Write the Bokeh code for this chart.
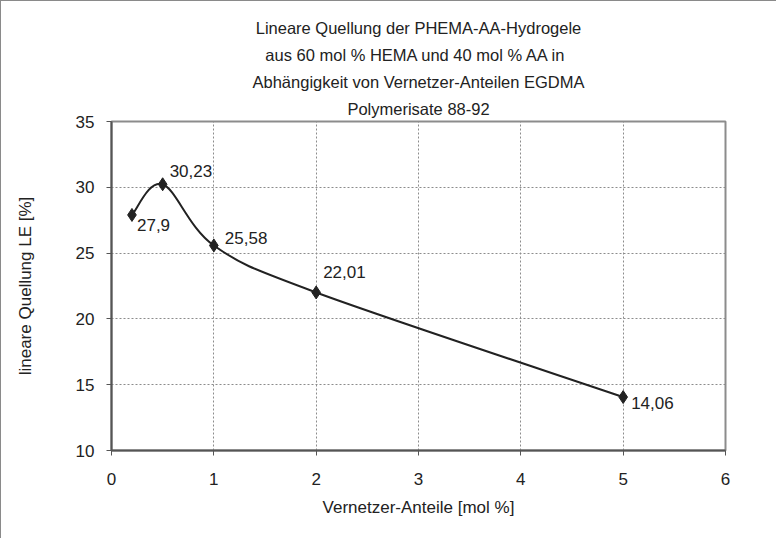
from bokeh.plotting import figure
from bokeh.models import Title, FixedTicker, Range1d
from bokeh.core.properties import value
from bokeh.embed import file_html
from bokeh.resources import INLINE

# ---- data ----
vernetzer = [0.2, 0.5, 1.0, 2.0, 5.0]
quellung = [27.9, 30.23, 25.58, 22.01, 14.06]
point_labels = ["27,9", "30,23", "25,58", "22,01", "14,06"]
x_ticks = [0, 1, 2, 3, 4, 5, 6]
y_ticks = [10, 15, 20, 25, 30, 35]
title_lines = [
    "Lineare Quellung der PHEMA-AA-Hydrogele",
    "aus 60 mol % HEMA und 40 mol % AA  in",
    "Abhängigkeit von Vernetzer-Anteilen EGDMA",
    "Polymerisate 88-92",
]
x_title = "Vernetzer-Anteile [mol %]"
y_title = "lineare Quellung LE [%]"

# label offsets (screen px) for data labels
lab_dx = [5, 7, 11, 7, 8]
lab_dy = [10, -13, -7, -20, 6]

FONT = "Liberation Sans"
DARK = "#222222"

p = figure(width=776, height=538, output_backend="svg", toolbar_location=None,
           x_range=Range1d(0, 6), y_range=Range1d(10, 35),
           min_border_left=110, min_border_right=52,
           min_border_top=120, min_border_bottom=89)
p.styles = {"border-top": "1px solid #8a8a8a", "border-left": "1px solid #8a8a8a"}

p.background_fill_color = "white"
p.border_fill_color = "white"
p.outline_line_color = "#8c8c8c"
p.outline_line_width = 2

# grids
p.xgrid.ticker = FixedTicker(ticks=x_ticks)
p.ygrid.ticker = FixedTicker(ticks=y_ticks)
for g in (p.xgrid, p.ygrid):
    g.grid_line_color = "#8c8c8c"
    g.grid_line_width = 1
    g.grid_line_dash = "2 2"

# axes
for ax in (p.xaxis, p.yaxis):
    ax.axis_line_color = "#555555"
    ax.axis_line_width = 2
    ax.major_tick_line_color = "#555555"
    ax.major_tick_in = 0
    ax.major_tick_out = 5
    ax.minor_tick_line_color = None
    ax.major_label_text_font = FONT
    ax.major_label_text_font_size = "17px"
    ax.major_label_text_color = DARK
    ax.axis_label_text_font = FONT
    ax.axis_label_text_font_size = "17px"
    ax.axis_label_text_font_style = "normal"
    ax.axis_label_text_color = DARK

p.xaxis.ticker = FixedTicker(ticks=x_ticks)
p.yaxis.ticker = FixedTicker(ticks=y_ticks)
p.xaxis.major_label_standoff = 17
p.yaxis.major_label_standoff = 12
p.xaxis.axis_label = x_title
p.yaxis.axis_label = y_title
p.xaxis.axis_label_standoff = 10
p.yaxis.axis_label_standoff = 38

# smoothed line (Catmull-Rom style Bezier through the points)
n = len(vernetzer)
x0s, y0s, x1s, y1s, cx0, cy0, cx1, cy1 = [], [], [], [], [], [], [], []
for i in range(n - 1):
    xa, ya = vernetzer[i], quellung[i]
    xb, yb = vernetzer[i + 1], quellung[i + 1]
    xp, yp = (vernetzer[i - 1], quellung[i - 1]) if i > 0 else (xa, ya)
    xn, yn = (vernetzer[i + 2], quellung[i + 2]) if i + 2 < n else (xb, yb)
    x0s.append(xa); y0s.append(ya); x1s.append(xb); y1s.append(yb)
    cx0.append(xa + (xb - xp) / 6.0); cy0.append(ya + (yb - yp) / 6.0)
    cx1.append(xb - (xn - xa) / 6.0); cy1.append(yb - (yn - ya) / 6.0)

p.bezier(x0=x0s, y0=y0s, x1=x1s, y1=y1s, cx0=cx0, cy0=cy0, cx1=cx1, cy1=cy1,
         line_color=DARK, line_width=2)

p.scatter(vernetzer, quellung, marker="diamond", size=13,
          fill_color=DARK, line_color=DARK)

p.text(x=vernetzer, y=quellung, text=point_labels,
       x_offset=lab_dx, y_offset=lab_dy,
       text_font=value(FONT), text_font_size="17px", text_color=DARK,
       text_align="left", text_baseline="middle")

# title: stacked Title panels, innermost added first
for t in reversed(title_lines):
    p.add_layout(Title(text=t, align="center", text_font=FONT,
                       text_font_size="16.5px", text_font_style="normal",
                       text_color=DARK, standoff=7, offset=0), "above")

open("out.html", "w").write(file_html(p, INLINE))
